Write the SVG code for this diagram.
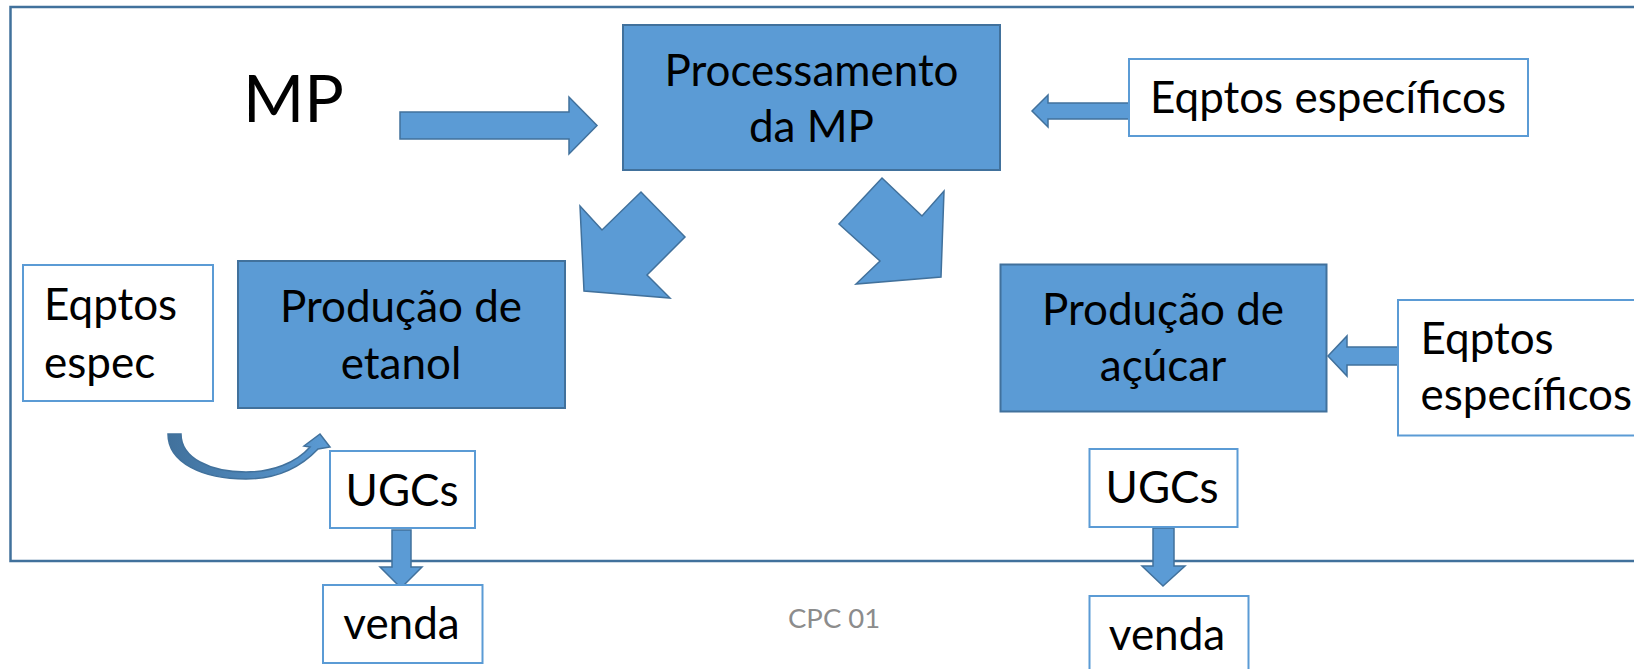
<svg xmlns="http://www.w3.org/2000/svg" width="1634" height="669" viewBox="0 0 1634 669">
<style>
  .fill { fill: #5B9BD5; stroke: #41719C; stroke-width: 2; }
  .wbox { fill: #FFFFFF; stroke: #5B9BD5; stroke-width: 2; }
  .arrow { fill: #5B9BD5; stroke: #41719C; stroke-width: 1.5; stroke-linejoin: miter; }
  .t { font-family: Lato, "Liberation Sans", sans-serif; font-size: 44px; fill: #000000; }
  .c { text-anchor: middle; }
</style>
<defs>
  <linearGradient id="curveGrad" x1="0" y1="0" x2="1" y2="0">
    <stop offset="0" stop-color="#41719C"/>
    <stop offset="1" stop-color="#5B9BD5"/>
  </linearGradient>
</defs>
<rect width="1634" height="669" fill="#FFFFFF"/>
<g id="frame">
  <path d="M1640,7 L10.5,7 L10.5,561 L1640,561" fill="none" stroke="#41719C" stroke-width="2.5"/>
</g>
<g id="connectors">
  <polygon class="arrow" points="400,112 569,112 569,97 597,125.5 569,154 569,139 400,139"/>
  <polygon class="arrow" points="1129,103 1048,103 1048,95 1032,111 1048,127 1048,119 1129,119"/>
  <polygon class="arrow" points="580,206 602,230 641,192 685,237 647,275 670,298 584,291"/>
  <polygon class="arrow" points="882,178 922,216 944,191 941,277 856,284 880,261 839,224"/>
  <polygon class="arrow" points="1398,347 1347,347 1347,336 1328,356 1347,376 1347,365 1398,365"/>
  <path d="M168,434 L181,434 C181,458 210,472 246,472 C272,472 296,463 310,447 L304,446 L320,434 L330,447 L318,449 C300,468 275,479 246,479 C203,479 168,463 168,434 Z" fill="url(#curveGrad)" stroke="#41719C" stroke-width="1.5"/>
  <polygon class="arrow" points="392,530 411,530 411,567 422,567 401,588 380,567 392,567"/>
  <polygon class="arrow" points="1153,528 1174,528 1174,566 1185,566 1163,586 1142,566 1153,566"/>
</g>
<g id="mp">
  <text class="t" x="243" y="122" style="font-size:66px">MP</text>
</g>
<g id="processamento">
  <rect class="fill" x="623" y="25" width="377" height="145"/>
  <text class="t c" x="811.5" y="86">Processamento</text>
  <text class="t c" x="811.5" y="142">da MP</text>
</g>
<g id="eqptos-top">
  <rect class="wbox" x="1129" y="59" width="399" height="77"/>
  <text class="t" x="1150" y="112.5">Eqptos específicos</text>
</g>
<g id="eqptos-espec">
  <rect class="wbox" x="23" y="265" width="190" height="136"/>
  <text class="t" x="44" y="320">Eqptos</text>
  <text class="t" x="44" y="378">espec</text>
</g>
<g id="etanol">
  <rect class="fill" x="238" y="261" width="327" height="147"/>
  <text class="t c" x="401" y="321.5">Produção de</text>
  <text class="t c" x="401" y="379">etanol</text>
</g>
<g id="acucar">
  <rect class="fill" x="1000.5" y="264.5" width="326" height="147"/>
  <text class="t c" x="1163" y="325">Produção de</text>
  <text class="t c" x="1163" y="381">açúcar</text>
</g>
<g id="eqptos-right">
  <rect class="wbox" x="1398" y="300" width="260" height="135.5"/>
  <text class="t" x="1420.5" y="353.5">Eqptos</text>
  <text class="t" x="1420.5" y="410">específicos</text>
</g>
<g id="ugcs-left">
  <rect class="wbox" x="330" y="451" width="145" height="77"/>
  <text class="t c" x="402" y="505.5">UGCs</text>
</g>
<g id="venda-left">
  <rect class="wbox" x="323" y="585" width="159.5" height="78"/>
  <text class="t c" x="401.5" y="639">venda</text>
</g>
<g id="ugcs-right">
  <rect class="wbox" x="1089.5" y="449" width="148" height="78"/>
  <text class="t c" x="1162" y="503">UGCs</text>
</g>
<g id="venda-right">
  <rect class="wbox" x="1089.5" y="596" width="159" height="90"/>
  <text class="t c" x="1167" y="650">venda</text>
</g>
<g id="footer">
  <text x="788" y="628" style="font-family: Lato, 'Liberation Sans', sans-serif; font-size:27.5px; fill:#8C8C8C">CPC 01</text>
</g>
</svg>
